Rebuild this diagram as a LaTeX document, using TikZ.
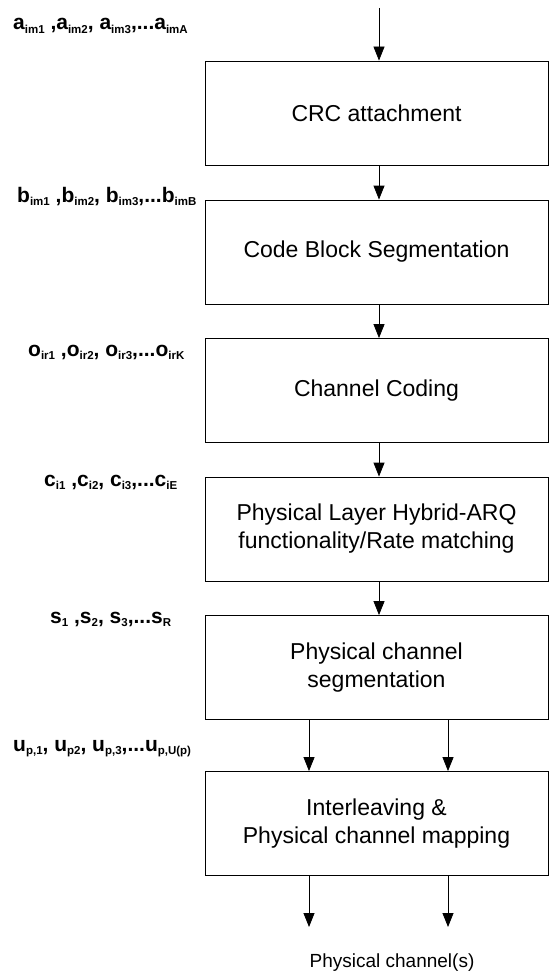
\documentclass[tikz,border=0pt]{standalone}
\usepackage{fontspec}
\setmainfont{Liberation Sans}
\usetikzlibrary{arrows.meta}
\newcommand{\lsub}[2]{#1\raisebox{-3.5pt}{\fontsize{11.5}{12}\selectfont #2}}
\tikzset{
  blk/.style={draw=black, line width=0.8pt, minimum width=343pt, minimum height=104pt,
    inner sep=0pt, align=center, font=\fontsize{23}{28}\selectfont},
  arr/.style={draw=black, line width=0.8pt, -{Triangle[length=14pt,width=11pt]}},
  lbl/.style={anchor=base west, inner sep=0pt, font=\bfseries\fontsize{21}{24}\selectfont},
}
\begin{document}
\begin{tikzpicture}[x=1pt,y=-1pt]
\useasboundingbox (0,0) rectangle (550,971);
\fill[white] (0,0) rectangle (550,971);
% boxes
\node[blk] (crc) at (376.5,113) {CRC attachment};
\node[blk] (cbs) at (376.5,252) {Code Block Segmentation};
\node[blk] (cc)  at (376.5,390.5) {Channel Coding};
\node[blk] (harq) at (376.5,529) {Physical Layer Hybrid-ARQ\\functionality/Rate matching};
\node[blk] (seg) at (376.5,667.5) {Physical channel\\segmentation};
\node[blk] (map) at (376.5,823.5) {Interleaving \&\\Physical channel mapping};
% coordinates
\coordinate (in) at (379,8);
\coordinate (c1) at (309,0);
\coordinate (c2) at (448,0);
\coordinate (out1) at (309,927);
\coordinate (out2) at (448,927);
% arrows
\draw[arr] (in) -- (in |- crc.north);
\draw[arr] (in |- crc.south) -- (in |- cbs.north);
\draw[arr] (in |- cbs.south) -- (in |- cc.north);
\draw[arr] (in |- cc.south) -- (in |- harq.north);
\draw[arr] (in |- harq.south) -- (in |- seg.north);
\draw[arr] (c1 |- seg.south) -- (c1 |- map.north);
\draw[arr] (c2 |- seg.south) -- (c2 |- map.north);
\draw[arr] (c1 |- map.south) -- (out1);
\draw[arr] (c2 |- map.south) -- (out2);
% labels
\node[lbl] (la) at (13,30) {\lsub{a}{im1} ,\lsub{a}{im2}, \lsub{a}{im3},...\lsub{a}{imA}};
\node[lbl] (lb) at (17,202) {\lsub{b}{im1} ,\lsub{b}{im2}, \lsub{b}{im3},...\lsub{b}{imB}};
\node[lbl] (lo) at (28,356) {\lsub{o}{ir1} ,\lsub{o}{ir2}, \lsub{o}{ir3},...\lsub{o}{irK}};
\node[lbl] (lc) at (44,486) {\lsub{c}{i1} ,\lsub{c}{i2}, \lsub{c}{i3},...\lsub{c}{iE}};
\node[lbl] (ls) at (50,623) {\lsub{s}{1} ,\lsub{s}{2}, \lsub{s}{3},...\lsub{s}{R}};
\node[lbl] (lu) at (13,751) {\lsub{u}{p,1}, \lsub{u}{p2}, \lsub{u}{p,3},...\lsub{u}{p,U(p)}};
\node[font=\fontsize{19}{23}\selectfont, anchor=base] (pc) at (392,967) {Physical channel(s)};
\end{tikzpicture}
\end{document}
